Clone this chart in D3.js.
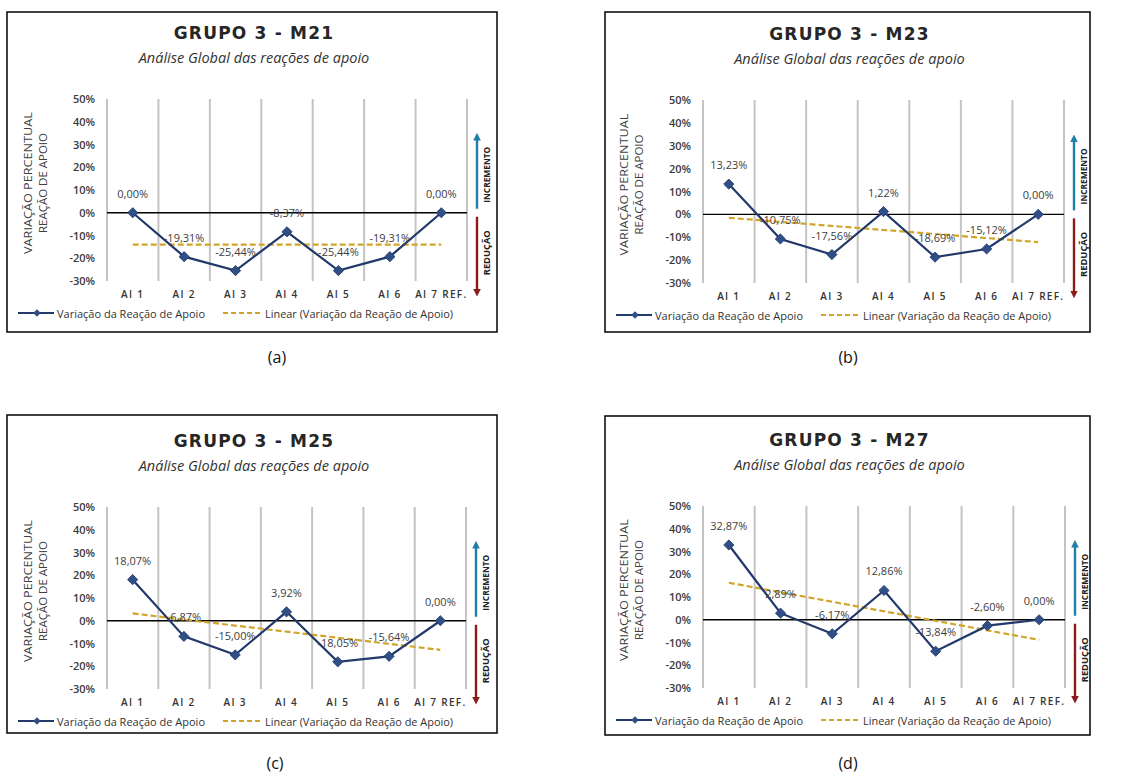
<!DOCTYPE html>
<html>
<head>
<meta charset="utf-8">
<script src="https://cdn.jsdelivr.net/npm/d3@7"></script>
<style>
  body { margin: 0; background: #fff; }
  svg { display: block; }
</style>
</head>
<body>
<svg id="fig" width="1132" height="773"></svg>
<script>
// ---- data ----
const categories = ["AI 1", "AI 2", "AI 3", "AI 4", "AI 5", "AI 6", "AI 7 REF."];
const yTicks = [50, 40, 30, 20, 10, 0, -10, -20, -30];

const valuesM21 = [0.00, -19.31, -25.44, -8.37, -25.44, -19.31, 0.00];
const valuesM23 = [13.23, -10.75, -17.56, 1.22, -18.69, -15.12, 0.00];
const valuesM25 = [18.07, -6.87, -15.00, 3.92, -18.05, -15.64, 0.00];
const valuesM27 = [32.87, 2.89, -6.17, 12.86, -13.84, -2.60, 0.00];

const panelTitles = ["GRUPO 3 - M21", "GRUPO 3 - M23", "GRUPO 3 - M25", "GRUPO 3 - M27"];
const panelCaptions = ["(a)", "(b)", "(c)", "(d)"];
const subtitleText = "Análise Global das reações de apoio";
const yTitleLines = ["VARIAÇÃO PERCENTUAL", "REAÇÃO DE APOIO"];
const seriesName = "Variação da Reação de Apoio";
const trendName = "Linear (Variação da Reação de Apoio)";
const upLabel = "INCREMENTO";
const downLabel = "REDUÇÃO";

// ---- layout ----
const layouts = [
  { frame: { x: 7, y: 12, w: 490, h: 320 },   plot: { l: 107, r: 467, t: 99, b: 281 },  cap: [277, 363] },
  { frame: { x: 605, y: 12, w: 485, h: 320 }, plot: { l: 703, r: 1064, t: 100, b: 283 }, cap: [848, 363] },
  { frame: { x: 7, y: 415, w: 490, h: 318 },  plot: { l: 107, r: 466, t: 507, b: 689 }, cap: [275, 769] },
  { frame: { x: 605, y: 416, w: 485, h: 319 }, plot: { l: 703, r: 1065, t: 506, b: 688 }, cap: [848, 769] }
];
const seriesList = [valuesM21, valuesM23, valuesM25, valuesM27];

const COLORS = {
  line: "#22396b",
  marker: "#2f4f86",
  trend: "#d1a52b",
  grid: "#c4c4c4",
  text: "#404040",
  up: "#1f7fa8",
  down: "#8c1c1c"
};

const svg = d3.select("#fig");
const defs = svg.append("defs");
[["arrUp", COLORS.up], ["arrDown", COLORS.down]].forEach(([id, c]) => {
  defs.append("marker")
    .attr("id", id).attr("viewBox", "0 0 10 10")
    .attr("refX", 5).attr("refY", 5)
    .attr("markerWidth", 3.2).attr("markerHeight", 3.2)
    .attr("orient", "auto-start-reverse")
    .append("path").attr("d", "M0,0 L10,5 L0,10 z").attr("fill", c);
});

// percentages with decimal comma and a plain hyphen for negatives
const fmtPct = v => v.toFixed(2).replace(".", ",") + "%";

// least-squares linear trend over category index
function linearFit(vals) {
  const n = vals.length;
  const xs = d3.range(1, n + 1);
  const mx = d3.mean(xs), my = d3.mean(vals);
  const sxy = d3.sum(xs, (x, i) => (x - mx) * (vals[i] - my));
  const sxx = d3.sum(xs, x => (x - mx) * (x - mx));
  const slope = sxy / sxx;
  return x => my + slope * (x - mx);
}

const markerShape = d3.symbol(d3.symbolSquare, 52);

function drawPanel(idx) {
  const L = layouts[idx];
  const vals = seriesList[idx];
  const g = svg.append("g");
  const f = L.frame, p = L.plot;

  // chart frame
  g.append("rect")
    .attr("x", f.x).attr("y", f.y).attr("width", f.w).attr("height", f.h)
    .attr("fill", "#fff").attr("stroke", "#111").attr("stroke-width", 1.6);

  const cx = f.x + f.w / 2 + 2;
  g.append("text")
    .attr("x", cx).attr("y", p.t - 60)
    .attr("text-anchor", "middle")
    .attr("font-family", "'DejaVu Sans', Verdana, sans-serif")
    .attr("font-weight", "bold").attr("font-size", 17)
    .attr("letter-spacing", 1.2)
    .attr("fill", "#262626")
    .text(panelTitles[idx]);
  g.append("text")
    .attr("x", cx).attr("y", p.t - 36)
    .attr("text-anchor", "middle")
    .attr("font-family", "'Open Sans', sans-serif")
    .attr("font-style", "italic").attr("font-size", 14.5)
    .attr("fill", "#333")
    .text(subtitleText);

  const x = d3.scaleBand().domain(categories).range([p.l, p.r]).padding(0);
  const y = d3.scaleLinear().domain([-30, 50]).range([p.b, p.t]);
  const xc = c => x(c) + x.bandwidth() / 2;

  // vertical category gridlines
  const gridXs = categories.map(c => x(c)).concat([p.r]);
  g.append("g").selectAll("line").data(gridXs).join("line")
    .attr("x1", d => d).attr("x2", d => d)
    .attr("y1", y(50)).attr("y2", y(-30))
    .attr("stroke", COLORS.grid).attr("stroke-width", 2);

  // y axis labels
  const yAxis = d3.axisLeft(y).tickValues(yTicks).tickSize(0).tickPadding(12)
    .tickFormat(d => d + "%");
  const ya = g.append("g").attr("transform", `translate(${p.l},0)`).call(yAxis);
  ya.select(".domain").remove();
  ya.selectAll("text")
    .attr("font-family", "'Open Sans', sans-serif")
    .attr("font-size", 11).attr("font-weight", 600)
    .attr("fill", "#3a3a3a");

  // y axis title (two lines)
  const ymid = (p.t + p.b) / 2 - 7;
  yTitleLines.forEach((t, i) => {
    g.append("text")
      .attr("transform", `translate(${p.l - 75 + i * 15},${ymid}) rotate(-90)`)
      .attr("text-anchor", "middle")
      .attr("font-family", "'Open Sans', sans-serif")
      .attr("font-size", 11.5)
      .attr("textLength", i === 0 ? 142 : 100).attr("lengthAdjust", "spacingAndGlyphs")
      .attr("fill", COLORS.text)
      .text(t);
  });

  // x category labels
  const xa = g.append("g").attr("transform", `translate(0,${p.b})`)
    .call(d3.axisBottom(x).tickSize(0).tickPadding(10));
  xa.select(".domain").remove();
  xa.selectAll("text")
    .attr("font-family", "'Open Sans', sans-serif")
    .attr("font-size", 10).attr("font-weight", 600)
    .attr("letter-spacing", 1.3)
    .attr("fill", "#333");

  // zero line
  g.append("line")
    .attr("x1", p.l).attr("x2", p.r).attr("y1", y(0)).attr("y2", y(0))
    .attr("stroke", "#000").attr("stroke-width", 1.4);

  // linear trend
  const fit = linearFit(vals);
  const trendPts = [[xc(categories[0]), y(fit(1))], [xc(categories[categories.length - 1]), y(fit(categories.length))]];
  g.append("path")
    .attr("d", d3.line()(trendPts))
    .attr("fill", "none").attr("stroke", COLORS.trend)
    .attr("stroke-width", 2.2).attr("stroke-dasharray", "6,3");

  // series line with diamond markers
  const pts = categories.map((c, i) => [xc(c), y(vals[i])]);
  g.append("path")
    .attr("d", d3.line()(pts))
    .attr("fill", "none").attr("stroke", COLORS.line).attr("stroke-width", 2.2);
  g.append("g").selectAll("path").data(pts).join("path")
    .attr("transform", d => `translate(${d[0]},${d[1]}) rotate(45)`)
    .attr("d", markerShape)
    .attr("fill", COLORS.marker).attr("stroke", COLORS.line).attr("stroke-width", 0.8);

  // data labels
  g.append("g").selectAll("text").data(pts).join("text")
    .attr("x", d => d[0]).attr("y", d => d[1] - 15)
    .attr("text-anchor", "middle")
    .attr("font-family", "'Open Sans', sans-serif")
    .attr("font-size", 11)
    .attr("fill", COLORS.text)
    .text((d, i) => fmtPct(vals[i]));

  // direction arrows
  const ax = p.r + 10, z = y(0);
  g.append("line")
    .attr("x1", ax).attr("x2", ax).attr("y1", z - 4).attr("y2", z - 76)
    .attr("stroke", COLORS.up).attr("stroke-width", 2.4).attr("marker-end", "url(#arrUp)");
  g.append("line")
    .attr("x1", ax).attr("x2", ax).attr("y1", z + 4).attr("y2", z + 80)
    .attr("stroke", COLORS.down).attr("stroke-width", 2.4).attr("marker-end", "url(#arrDown)");
  [[upLabel, z - 38, 56], [downLabel, z + 40, 45]].forEach(([t, cy, len]) => {
    g.append("text")
      .attr("transform", `translate(${ax + 13},${cy}) rotate(-90)`)
      .attr("text-anchor", "middle")
      .attr("font-family", "'Open Sans', sans-serif")
      .attr("font-size", 8.5).attr("font-weight", "bold")
      .attr("textLength", len).attr("lengthAdjust", "spacingAndGlyphs")
      .attr("fill", "#222")
      .text(t);
  });

  // legend
  const ly = p.b + 32;
  const lg = g.append("g");
  lg.append("line")
    .attr("x1", f.x + 11).attr("x2", f.x + 47).attr("y1", ly).attr("y2", ly)
    .attr("stroke", COLORS.line).attr("stroke-width", 2);
  lg.append("path")
    .attr("transform", `translate(${f.x + 30},${ly}) rotate(45)`)
    .attr("d", d3.symbol(d3.symbolSquare, 28))
    .attr("fill", COLORS.marker);
  lg.append("text")
    .attr("x", f.x + 50).attr("y", ly + 4.5)
    .attr("font-family", "'Open Sans', sans-serif")
    .attr("font-size", 11.5).attr("fill", "#333")
    .attr("textLength", 148).attr("lengthAdjust", "spacingAndGlyphs")
    .text(seriesName);
  lg.append("line")
    .attr("x1", f.x + 216).attr("x2", f.x + 256).attr("y1", ly).attr("y2", ly)
    .attr("stroke", COLORS.trend).attr("stroke-width", 2).attr("stroke-dasharray", "5,3");
  lg.append("text")
    .attr("x", f.x + 258).attr("y", ly + 4.5)
    .attr("font-family", "'Open Sans', sans-serif")
    .attr("font-size", 11.5).attr("fill", "#333")
    .attr("textLength", 188).attr("lengthAdjust", "spacingAndGlyphs")
    .text(trendName);

  // caption below panel
  svg.append("text")
    .attr("x", L.cap[0]).attr("y", L.cap[1])
    .attr("text-anchor", "middle")
    .attr("font-family", "'Open Sans', sans-serif")
    .attr("font-size", 16).attr("fill", "#111")
    .text(panelCaptions[idx]);
}

d3.range(4).forEach(drawPanel);
</script>
</body>
</html>
